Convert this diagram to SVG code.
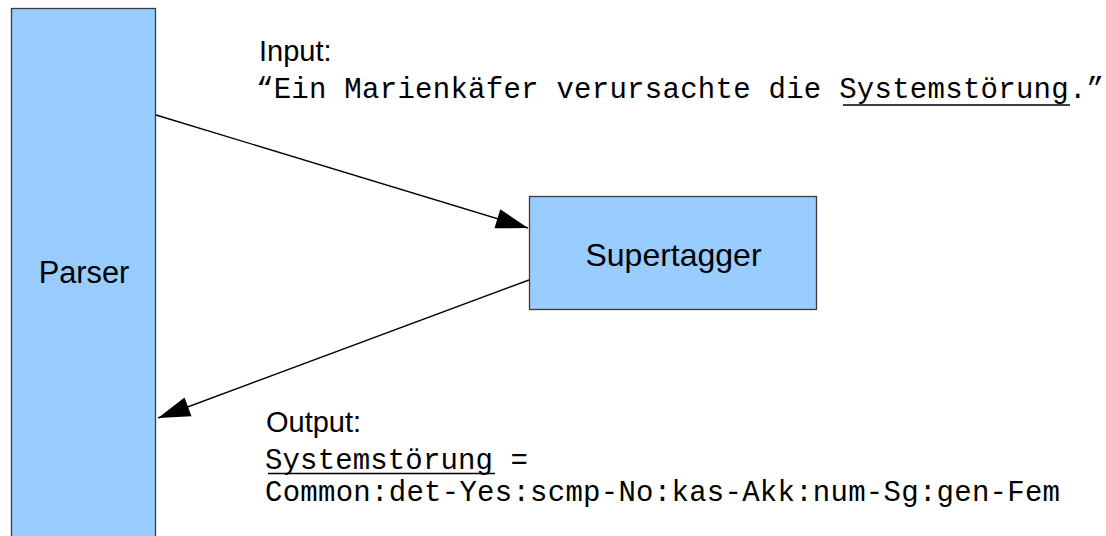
<svg xmlns="http://www.w3.org/2000/svg" width="1106" height="536" viewBox="0 0 1106 536">
  <style>
    .box { fill: #99ccff; stroke: #3a3a3a; stroke-width: 1.3; }
    .label { font-family: "Liberation Sans", Arial, sans-serif; fill: #000; }
    .mono { font-family: "Liberation Mono", "Courier New", monospace; font-size: 29px; fill: #000; }
    .edge { stroke: #000; stroke-width: 1.4; fill: none; marker-end: url(#arrow); }
    .ul { stroke: #000; stroke-width: 1.3; }
  </style>
  <defs>
    <marker id="arrow" markerUnits="userSpaceOnUse" markerWidth="34" markerHeight="22" refX="33" refY="11" orient="auto">
      <path d="M1,1 L33,11 L1,21 Z" fill="#000"/>
    </marker>
  </defs>

  <g id="parser">
    <rect class="box" x="11.5" y="8.5" width="144" height="540"/>
    <text class="label" x="84" y="283" font-size="30.8" text-anchor="middle">Parser</text>
  </g>

  <g id="supertagger">
    <rect class="box" x="529.5" y="196.5" width="287" height="113"/>
    <text class="label" x="673.5" y="266" font-size="32" text-anchor="middle">Supertagger</text>
  </g>

  <g id="connectors">
    <line class="edge" x1="156" y1="115" x2="528" y2="228"/>
    <line class="edge" x1="529" y1="280" x2="158" y2="418"/>
  </g>

  <g id="input-note">
    <text class="label" x="259" y="61" font-size="29">Input:</text>
    <text class="mono" x="256" y="98" textLength="848" lengthAdjust="spacing">“Ein Marienkäfer verursachte die Systemstörung.”</text>
    <line class="ul" x1="843" y1="105" x2="1070" y2="105"/>
  </g>

  <g id="output-note">
    <text class="label" x="266" y="432" font-size="29">Output:</text>
    <text class="mono" x="265" y="469" textLength="263" lengthAdjust="spacing">Systemstörung =</text>
    <line class="ul" x1="268" y1="473.5" x2="495" y2="473.5"/>
    <text class="mono" x="265" y="501" textLength="795" lengthAdjust="spacing">Common:det-Yes:scmp-No:kas-Akk:num-Sg:gen-Fem</text>
  </g>
</svg>
